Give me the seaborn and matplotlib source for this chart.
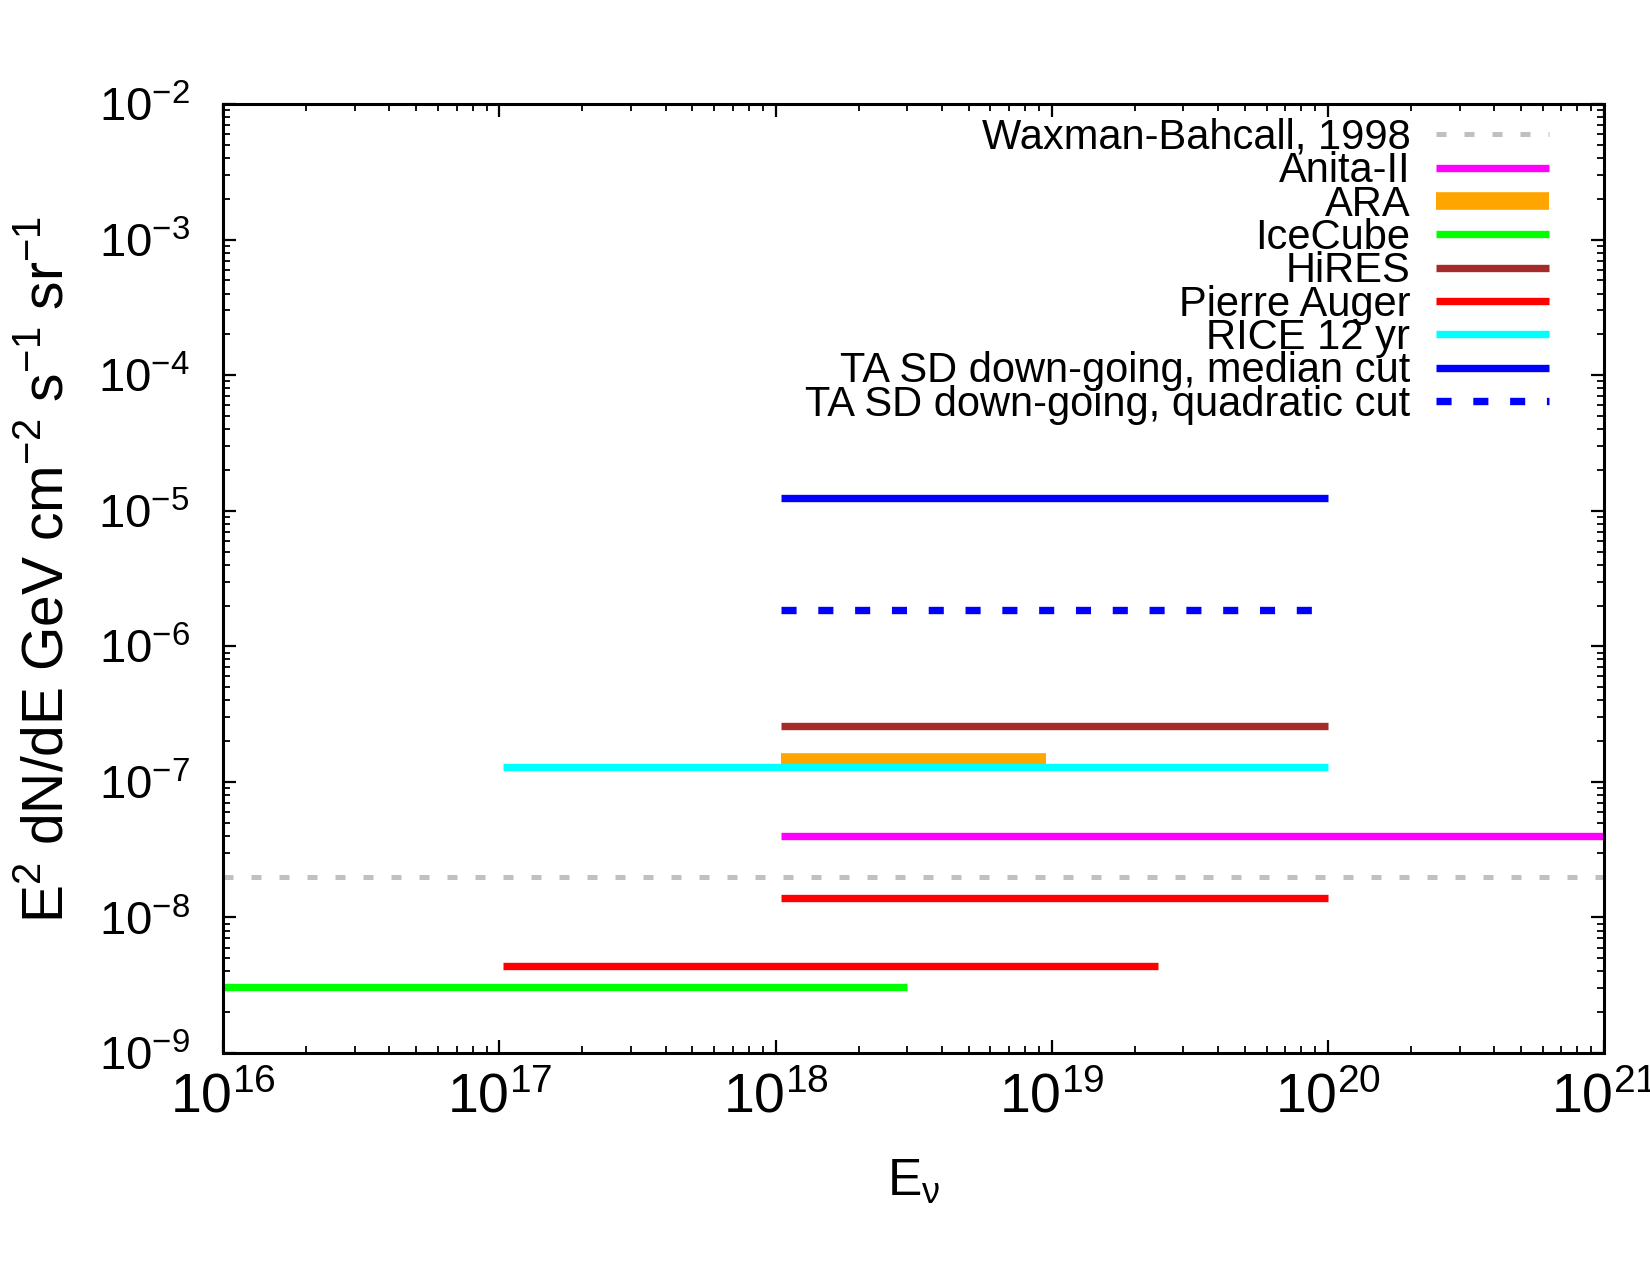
import numpy as np
import pandas as pd
import matplotlib
matplotlib.use("Agg")
import matplotlib.pyplot as plt
import seaborn as sns
from matplotlib import font_manager
from matplotlib.ticker import LogLocator, NullFormatter, LogFormatterMathtext

# limits on the diffuse UHE neutrino flux, E^2 dN/dE [GeV cm^-2 s^-1 sr^-1]
labels = ["Waxman-Bahcall, 1998", "Anita-II", "ARA", "IceCube", "HiRES",
          "Pierre Auger", "RICE 12 yr", "TA SD down-going, median cut",
          "TA SD down-going, quadratic cut"]
e_low = [1e16, 1.05e18, 1.05e18, 1e16, 1.05e18, 1.05e18, 1.03e17, 1.05e18, 1.05e18]
e_high = [1e21, 1e21, 9.5e18, 3e18, 1e20, 1e20, 1e20, 1e20, 1e20]
flux = [2e-8, 4e-8, 1.39e-7, 3.05e-9, 2.6e-7, 1.38e-8, 1.29e-7, 1.25e-5, 1.84e-6]

# second (lower energy) Pierre Auger segment
auger_low = [1.03e17, 2.42e19]
auger_flux = 4.36e-9

colors = ["#c0c0c0", "#ff00ff", "#ffa500", "#00ff00", "#a52a2a",
          "#ff0000", "#00ffff", "#0000ff", "#0000ff"]
widths = [3.6, 5.3, 12.7, 5.3, 5.3, 5.3, 5.3, 5.3, 5.3]
styles = [(0, (2.0, 3.6)), "-", "-", "-", "-", "-", "-", "-", (0, (2.05, 2.95))]

sns.set_theme(style="ticks")
names = {f.name for f in font_manager.fontManager.ttflist}
NARROW = "Liberation Sans Narrow" if "Liberation Sans Narrow" in names else "Liberation Sans"
plt.rcParams["font.family"] = ["Liberation Sans", "DejaVu Sans"]
plt.rcParams.update({"text.color": "black", "axes.labelcolor": "black",
                     "xtick.labelcolor": "black", "ytick.labelcolor": "black"})

fig = plt.figure(figsize=(16.5, 12.75), dpi=100)
ax = fig.add_axes([0.1352, 0.1741, 0.8370, 0.7443])
ax.set_xscale("log")
ax.set_yscale("log")

for i, lab in enumerate(labels):
    seg = pd.DataFrame({"E": [e_low[i], e_high[i]], "flux": [flux[i]] * 2})
    sns.lineplot(data=seg, x="E", y="flux", ax=ax, color=colors[i],
                 linewidth=widths[i], linestyle=styles[i], label=lab,
                 estimator=None, solid_capstyle="butt", dash_capstyle="butt")
    if lab == "Pierre Auger":
        seg2 = pd.DataFrame({"E": auger_low, "flux": [auger_flux] * 2})
        sns.lineplot(data=seg2, x="E", y="flux", ax=ax, color=colors[i],
                     linewidth=widths[i], label="_nolegend_", estimator=None,
                     solid_capstyle="butt")

ax.set_xlim(1e16, 1e21)
ax.set_ylim(1e-9, 1e-2)

ax.xaxis.set_major_locator(LogLocator(base=10, numticks=20))
ax.yaxis.set_major_locator(LogLocator(base=10, numticks=20))
ax.xaxis.set_minor_locator(LogLocator(base=10, subs=np.arange(2, 10), numticks=100))
ax.yaxis.set_minor_locator(LogLocator(base=10, subs=np.arange(2, 10), numticks=100))
ax.xaxis.set_minor_formatter(NullFormatter())
ax.yaxis.set_minor_formatter(NullFormatter())
ax.xaxis.set_major_formatter(LogFormatterMathtext())
ax.yaxis.set_major_formatter(LogFormatterMathtext())

ax.tick_params(which="both", direction="in", top=True, right=True, color="black")
ax.tick_params(which="major", length=9.5, width=1.6)
ax.tick_params(which="minor", length=5, width=1.3)
ax.tick_params(axis="y", which="major", labelsize=34, pad=24)
ax.tick_params(axis="x", which="major", labelsize=40, pad=14, labelfontfamily=NARROW)
for s in ax.spines.values():
    s.set_linewidth(2.2)
    s.set_color("black")

ax.set_xlabel(r"E$_{\mathdefault{ν}}$", fontsize=37, family=NARROW)
ax.set_ylabel(r"E$^{\mathdefault{2}}$ dN/dE GeV cm$^{\mathdefault{-2}}$ s$^{\mathdefault{-1}}$ sr$^{\mathdefault{-1}}$",
              fontsize=41, family=NARROW)
ax.xaxis.set_label_coords(0.5, -0.11)
ax.yaxis.set_label_coords(-0.107, 0.51)

leg = ax.legend(loc="upper right", bbox_to_anchor=(0.972, 1.003), frameon=False,
                markerfirst=False, prop={"family": NARROW, "size": 30},
                handlelength=2.7, handletextpad=0.62, labelspacing=-0.16,
                borderaxespad=0)

fig.savefig("out.png", dpi=100, facecolor="white")
